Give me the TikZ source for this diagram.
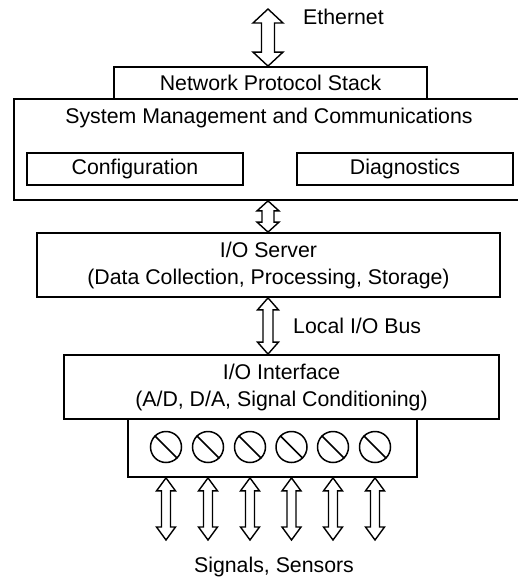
\documentclass[tikz,border=0pt]{standalone}
\usepackage{fontspec}
\setmainfont{Liberation Sans}
\usetikzlibrary{calc}
\tikzset{
  txt/.style={font=\fontsize{21.3}{27}\selectfont, inner sep=0pt, align=center},
  box/.style={draw, line width=1.8pt, rectangle, inner sep=0pt, txt},
  fat/.style={draw, line width=1.4pt, fill=white, line join=miter},
  screw/.style={draw, line width=1.5pt, circle, minimum size=31pt, inner sep=0pt},
}
\newcommand\fatarrow[5]{%
  \draw[fat] let \p1=(#1), \p2=(#2) in
    (\x1,\y1) -- (\x1+#4,\y1-#5) -- (\x1+#3,\y1-#5) -- (\x1+#3,\y2+#5)
    -- (\x1+#4,\y2+#5) -- (\x1,\y2) -- (\x1-#4,\y2+#5) -- (\x1-#3,\y2+#5)
    -- (\x1-#3,\y1-#5) -- (\x1-#4,\y1-#5) -- cycle;}
\begin{document}
\begin{tikzpicture}[x=1pt, y=-1pt]
\useasboundingbox (0,0) rectangle (518,580);
% boxes
\node[box, minimum width=313pt, minimum height=32pt] (nps) at (270.5,83) {Network Protocol Stack};
\node[box, minimum width=507pt, minimum height=101pt] (sys) at (267.5,149.5) {};
\node[txt] (systxt) at (269,118) {System Management and Communications};
\node[box, minimum width=216pt, minimum height=32pt] (conf) at (135,169) {Configuration};
\node[box, minimum width=216pt, minimum height=32pt] (diag) at (405,169) {Diagnostics};
\node[box, minimum width=463pt, minimum height=64pt] (srv) at (268.5,265) {I/O Server\\(Data Collection, Processing, Storage)};
\node[box, minimum width=435pt, minimum height=64pt] (ioi) at (281.5,387) {I/O Interface\\(A/D, D/A, Signal Conditioning)};
\node[box, minimum width=289pt, minimum height=58pt] (term) at (272.5,448) {};
% screws
\foreach \i/\x in {1/166,2/208,3/250,4/291.5,5/333,6/375}{
  \node[screw] (t\i) at (\x,447) {};
  \draw[line width=1.5pt] (t\i.north west) -- (t\i.south east);
}
% labels
\coordinate (ethtop) at (268,9);
\node[txt, anchor=west] (eth) at (303,17) {Ethernet};
\node[txt, anchor=west] (lbus) at (293,326) {Local I/O Bus};
\node[txt] (sig) at (274,567) {Signals, Sensors};
\coordinate (sigend) at (0,540);
% arrows
\fatarrow{ethtop}{ethtop |- nps.north}{6.5pt}{15pt}{14pt}
\fatarrow{ethtop |- sys.south}{ethtop |- srv.north}{6pt}{11pt}{10pt}
\fatarrow{ethtop |- srv.south}{ethtop |- ioi.north}{5pt}{10.5pt}{12pt}
\foreach \i in {1,...,6}{
  \fatarrow{t\i |- term.south}{t\i |- sigend}{4.5pt}{9.5pt}{13pt}
}
\end{tikzpicture}
\end{document}
